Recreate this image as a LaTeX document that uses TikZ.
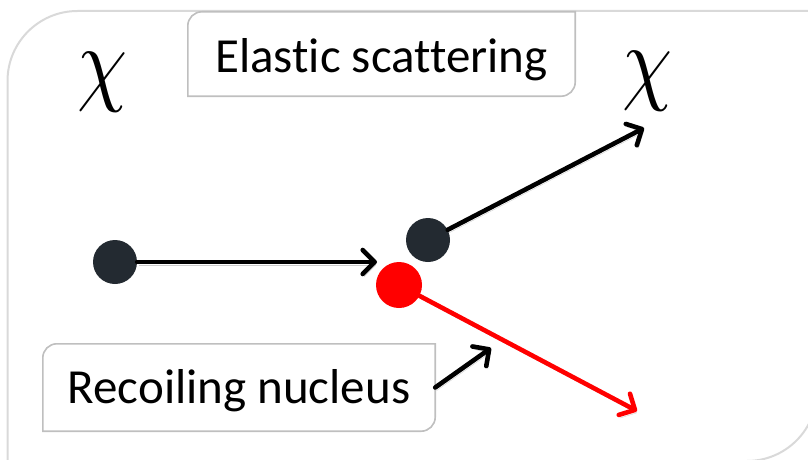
\documentclass[tikz,border=0pt]{standalone}
\usepackage{fontspec}
\setmainfont{Carlito}[Ligatures={NoCommon}]
\usetikzlibrary{arrows.meta}
\definecolor{framegray}{HTML}{D9D9D9}
\definecolor{boxgray}{HTML}{BFBFBF}
\definecolor{dotdark}{HTML}{232A31}
\definecolor{dotred}{HTML}{FF0000}
\tikzset{
  lbl/.style={inner sep=0pt, font=\fontsize{49}{58}\selectfont, text=black},
  boxline/.style={draw=boxgray, line width=1.6pt, fill=white},
  dot/.style={circle, inner sep=0pt, minimum size=44pt, fill=dotdark},
  reddot/.style={circle, inner sep=0pt, minimum size=46pt, fill=dotred},
  chisym/.style={inner sep=0pt, font=\fontsize{10}{12}\selectfont, xscale=8, yscale=9.5},
  shadowed/.style={preaction={draw=black, opacity=0.2, transform canvas={shift={(1.5pt,-3pt)}}}},
  arr/.style={line width=4.6pt, line cap=round, line join=round, -{Straight Barb[length=12pt,width=24pt,line cap=round,line join=round]}, shadowed},
}
\begin{document}
\begin{tikzpicture}[x=1pt,y=1pt]
\useasboundingbox (0,-460) rectangle (808,0);
\clip (0,-460) rectangle (808,0);
% outer frame
\draw[draw=framegray, line width=2pt]
  (7.5,-470) -- (7.5,-81) arc[start angle=180,end angle=90,radius=70]
  -- (817,-11) -- (817,-391) arc[start angle=0,end angle=-90,radius=70] -- (7.5,-461);
% labels with boxes
\node[lbl, minimum width=387pt, minimum height=84pt, text height=36pt, text depth=0pt] (es) at (381.5,-54) {};
\draw[boxline] (es.south west) -- ([yshift=-14pt]es.north west) arc[start angle=180,end angle=90,radius=14pt]
  -- (es.north east) -- ([yshift=14pt]es.south east) arc[start angle=0,end angle=-90,radius=14pt] -- cycle;
\node[lbl, minimum width=387pt, minimum height=84pt, text height=36pt, text depth=0pt] (est) at (381.5,-54) {Elastic scattering};
\node[lbl, minimum width=392pt, minimum height=87pt, text height=31pt, text depth=0pt] (rec) at (239,-387.5) {};
\draw[boxline] (rec.south west) -- ([yshift=-14pt]rec.north west) arc[start angle=180,end angle=90,radius=14pt]
  -- (rec.north east) -- ([yshift=14pt]rec.south east) arc[start angle=0,end angle=-90,radius=14pt] -- cycle;
\node[lbl, minimum width=392pt, minimum height=87pt, text height=31pt, text depth=0pt] (rect) at (239,-387.5) {Recoiling nucleus};
% chi symbols
\node[chisym] (chi1) at (103,-82) {$\chi$};
\node[chisym] (chi2) at (648,-81) {$\chi$};
% particles
\node[dot] (d1) at (115,-262) {};
\node[dot] (d2) at (428,-240) {};
\node[reddot] (d3) at (399,-285) {};
\coordinate (t1) at (377,-262);
\coordinate (t2) at (644,-128);
\coordinate (t3) at (637,-411);
\coordinate (t4) at (491,-348);
% arrows
\draw[arr] (d1) -- (t1);
\draw[arr] (d2) -- (t2);
\draw[arr, draw=dotred] (d3) -- (t3);
\draw[arr] (rec.east) -- (t4);
\end{tikzpicture}
\end{document}
